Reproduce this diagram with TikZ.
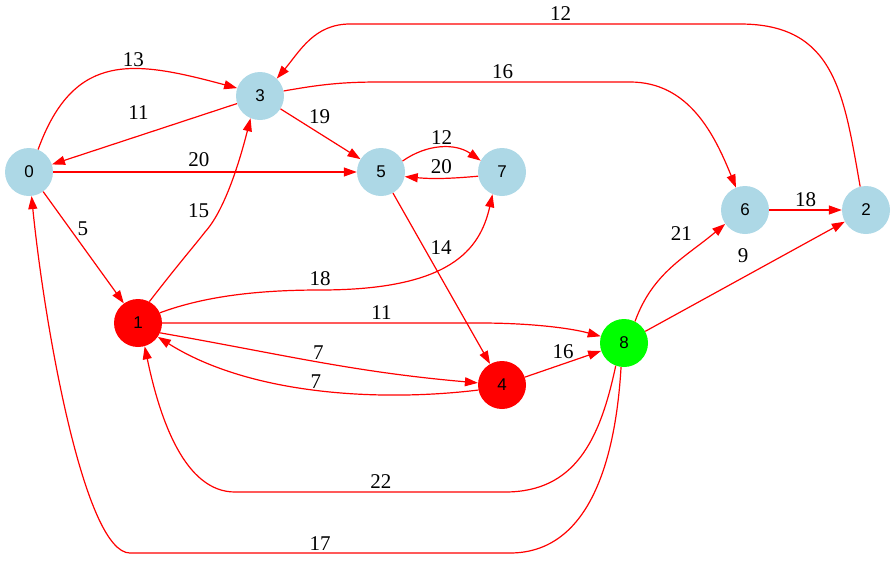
\documentclass[tikz,border=0pt]{standalone}
\usepackage{fontspec}
\setmainfont{Liberation Serif}
\newfontfamily\vtxfont{Liberation Sans}
\usetikzlibrary{arrows.meta}
\definecolor{lightblue}{HTML}{ADD8E6}
\definecolor{vgreen}{HTML}{00FF00}
\tikzset{
  vtx/.style={circle, minimum size=48pt, inner sep=0pt, fill=#1,
    font=\vtxfont\fontsize{17}{17}\selectfont},
  vtx/.default=lightblue,
  arc/.style={draw=red, line width=1.2pt, -{Triangle[length=13pt,width=9pt]}},
  lbl/.style={font=\fontsize{21}{21}\selectfont, inner sep=0pt}
}
\begin{document}
\begin{tikzpicture}[x=1pt,y=1pt]
  \useasboundingbox (0,0) rectangle (896,-560);
  \node[vtx] (n0) at (29,-172) {0};
  \node[vtx] (n3) at (260,-96) {3};
  \node[vtx] (n5) at (381,-172) {5};
  \node[vtx] (n7) at (502,-172) {7};
  \node[vtx] (n6) at (745,-210) {6};
  \node[vtx] (n2) at (866,-210) {2};
  \node[vtx=red] (n1) at (138,-323) {1};
  \node[vtx=red] (n4) at (502,-385) {4};
  \node[vtx=vgreen] (n8) at (624,-343) {8};

  \draw[arc] (n0.68) to[out=70,in=165,looseness=1.3] node[lbl,pos=.6,yshift=10pt]{13} (n3.161);
  \draw[arc] (n3) -- node[lbl,pos=.5,xshift=-6pt,yshift=21pt]{11} (n0);
  \draw[arc] (n0) -- node[lbl,pos=.48,yshift=12pt]{20} (n5);
  \draw[arc] (n0) -- node[lbl,pos=.33,xshift=13pt]{5} (n1);
  \draw[arc] (n3) -- node[lbl,pos=.49,yshift=17pt]{19} (n5);
  \draw[arc] (n3.12) to[out=10,in=180] (380,-82) -- node[lbl,pos=.49,yshift=10pt]{16} (630,-82)
    to[out=0,in=112] (n6.112);
  \draw[arc] (n2.104) to[out=100,in=0,looseness=1.2] (740,-24) -- node[lbl,pos=.46,yshift=10pt]{12} (350,-24)
    to[out=180,in=50] (n3.46);
  \draw[arc] (n5.27) to[out=35,in=145] node[lbl,pos=.5,yshift=10pt]{12} (n7.152);
  \draw[arc] (n7.190) to[out=185,in=-5] node[lbl,pos=.5,yshift=12pt]{20} (n5.-11);
  \draw[arc] (n5) -- node[lbl,pos=.32,xshift=17pt]{14} (n4);
  \draw[arc] (n1.62) .. controls (180,-262) and (195,-245) .. (205,-232)
    .. controls (225,-210) and (240,-160) .. node[lbl,pos=.15,xshift=-15pt,yshift=10pt]{15} (n3.-113);
  \draw[arc] (n1.25) .. controls (200,-298) and (250,-290) .. (320,-290) node[lbl,yshift=11pt]{18}
    .. controls (450,-290) and (480,-250) .. (n7.-113);
  \draw[arc] (n1) -- node[lbl,pos=.69,yshift=10pt]{11} (480,-323)
    .. controls (530,-323) and (570,-328) .. (n8.164);
  \draw[arc] (n1.-24) to[out=-10,in=175] node[lbl,pos=.5,yshift=9pt]{7} (n4.175);
  \draw[arc] (n4.192) .. controls (380,-402) and (250,-395) .. node[lbl,pos=.5,yshift=8pt]{7} (n1.-35);
  \draw[arc] (n4) -- node[lbl,pos=.5,yshift=12pt]{16} (n8);
  \draw[arc] (n8.63) to[out=70,in=-140] node[lbl,pos=.6,yshift=25pt]{21} (n6.-145);
  \draw[arc] (n8) -- node[lbl,pos=.49,yshift=22pt]{9} (n2);
  \draw[arc] (n6) -- node[lbl,pos=.5,yshift=10pt]{18} (n2);
  \draw[arc] (n8.-110) .. controls (600,-440) and (575,-492) .. (505,-492)
    -- node[lbl,pos=.46,yshift=10pt]{22} (235,-492)
    .. controls (185,-492) and (160,-420) .. (n1.-74);
  \draw[arc] (n8.-97) .. controls (615,-470) and (585,-553) .. (510,-553)
    -- node[lbl,pos=.5,yshift=9pt]{17} (130,-553)
    .. controls (85,-553) and (45,-330) .. (n0.-84);
\end{tikzpicture}
\end{document}
